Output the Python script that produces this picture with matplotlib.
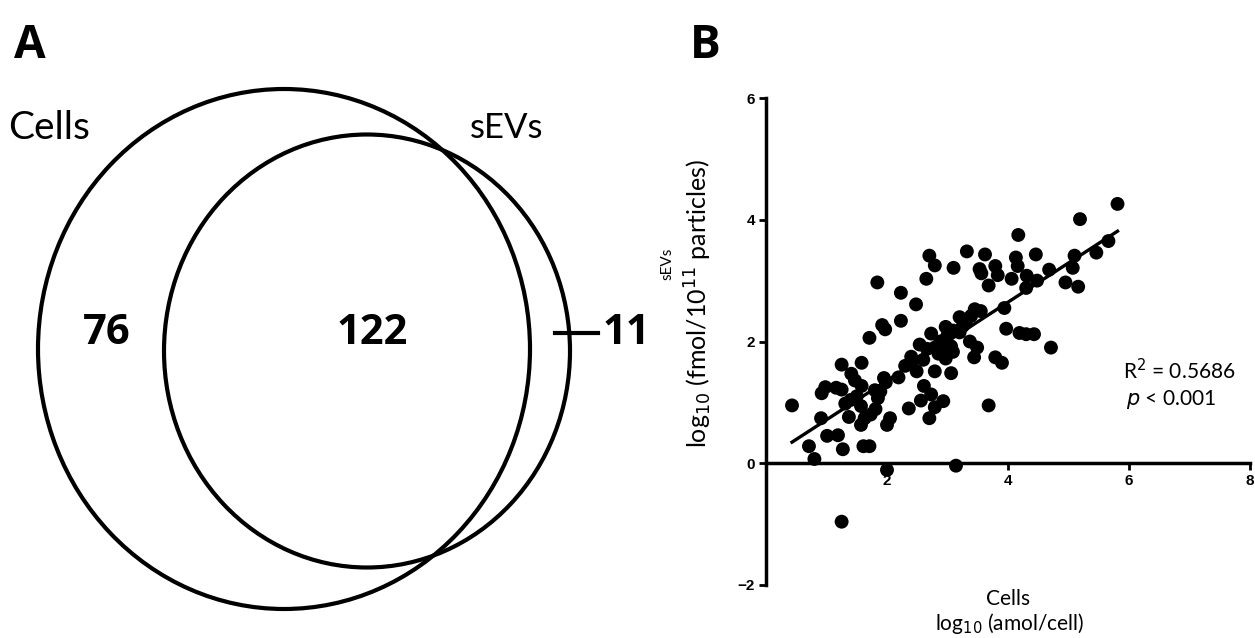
import numpy as np
import matplotlib
matplotlib.use("Agg")
import matplotlib.pyplot as plt
from matplotlib.patches import Ellipse

# ---------------- data ----------------
venn_labels = ["Cells", "sEVs"]
venn_counts = {"cells_only": 76, "both": 122, "sevs_only": 11}

cells_x = [5.81, 5.19, 4.17, 5.66, 5.46, 3.32, 3.62, 4.46, 2.70, 4.13, 5.10, 2.79, 3.10, 3.53,
           3.79, 4.16, 4.68, 5.07, 3.56, 3.83, 1.84, 2.65, 4.06, 4.31, 3.68, 4.95, 5.16, 4.30,
           4.48, 2.23, 2.48, 3.94, 3.45, 3.39, 1.92, 1.97, 2.23, 1.71, 3.97, 4.19, 4.30, 4.43,
           4.71, 3.30, 3.09, 2.97, 2.73, 2.54, 2.66, 2.79, 2.85, 2.88, 3.06, 3.09, 3.37, 3.49,
           3.44, 3.79, 3.90, 2.97, 2.40, 2.49, 2.79, 3.06, 1.25, 1.58, 2.19, 1.98, 1.41, 1.47,
           1.58, 0.92, 0.98, 1.16, 1.25, 1.89, 1.85, 2.61, 2.73, 2.56, 2.79, 2.93, 2.36, 1.31,
           1.40, 1.57, 0.43, 1.81, 1.73, 1.63, 1.37, 0.91, 2.05, 2.00, 1.57, 2.70, 3.68, 1.01,
           1.19, 0.71, 1.27, 1.61, 1.71, 0.80, 2.00, 3.14, 1.25,
           2.90, 2.98, 3.20, 3.25, 2.95, 2.30, 2.40, 1.95, 1.80, 1.50, 3.00, 3.55, 3.20, 2.60]
sevs_y = [4.26, 4.01, 3.75, 3.65, 3.46, 3.48, 3.43, 3.43, 3.41, 3.38, 3.41, 3.25, 3.21, 3.19,
          3.24, 3.24, 3.18, 3.21, 3.12, 3.09, 2.97, 3.03, 3.03, 3.08, 2.92, 2.97, 2.90, 2.88,
          3.00, 2.80, 2.61, 2.55, 2.53, 2.42, 2.27, 2.20, 2.34, 2.06, 2.21, 2.14, 2.12, 2.12,
          1.90, 2.30, 2.18, 2.24, 2.13, 1.95, 1.88, 1.90, 1.80, 2.00, 1.92, 1.83, 2.00, 1.90,
          1.74, 1.74, 1.65, 1.72, 1.65, 1.51, 1.51, 1.48, 1.62, 1.65, 1.41, 1.33, 1.47, 1.36,
          1.27, 1.15, 1.25, 1.24, 1.21, 1.18, 1.07, 1.27, 1.13, 1.03, 0.92, 1.02, 0.90, 0.98,
          1.04, 0.94, 0.95, 0.89, 0.80, 0.74, 0.76, 0.74, 0.74, 0.63, 0.63, 0.74, 0.95, 0.45,
          0.46, 0.28, 0.23, 0.28, 0.28, 0.07, -0.11, -0.04, -0.96,
          1.95, 2.05, 2.15, 2.25, 1.85, 1.60, 1.75, 1.40, 1.20, 1.10, 2.10, 2.50, 2.40, 1.70]
fit_slope = 0.644
fit_intercept = 0.07
x_ticks = [2, 4, 6, 8]
y_ticks = [-2, 0, 2, 4, 6]
r2_text = "0.5686"
p_text = "0.001"

# ---------------- figure ----------------
W, H = 1255, 638
fig = plt.figure(figsize=(W / 100, H / 100), dpi=100)
fig.patch.set_facecolor("white")

venn_font = ["Lato", "DejaVu Sans"]
num_font = ["Open Sans", "DejaVu Sans"]

# Panel A: Venn diagram, axes in pixel coordinates
axv = fig.add_axes([0, 0, 690 / W, 1])
axv.set_xlim(0, 690)
axv.set_ylim(H, 0)
axv.axis("off")

cells_e = Ellipse((284, 349), 492, 520, fill=False, lw=3.0, ec="black")
sevs_e = Ellipse((367, 351), 406, 433, fill=False, lw=3.0, ec="black")
axv.add_patch(cells_e)
axv.add_patch(sevs_e)

axv.text(14, 45, "A", fontsize=33, fontweight="bold", family=num_font, va="center", ha="left")
axv.text(8, 128, venn_labels[0], fontsize=28, family=venn_font, va="center", ha="left")
axv.text(470, 128, venn_labels[1], fontsize=25, family=venn_font, va="center", ha="left")
axv.text(107, 333, str(venn_counts["cells_only"]), fontsize=30, fontweight="bold",
         family=num_font, va="center", ha="center")
axv.text(372, 333, str(venn_counts["both"]), fontsize=30, fontweight="bold",
         family=num_font, va="center", ha="center")
axv.plot([555, 598], [333, 333], color="black", lw=3)
axv.text(626, 333, str(venn_counts["sevs_only"]), fontsize=30, fontweight="bold",
         family=num_font, va="center", ha="center")

fig.text(690 / W, 1 - 45 / H, "B", fontsize=33, fontweight="bold", family=num_font,
         va="center", ha="left")

# Panel B: scatter
ax = fig.add_axes([766 / W, (H - 585) / H, (1250 - 766) / W, (585 - 98) / H])
ax.set_xlim(0, 8)
ax.set_ylim(-2, 6)
ax.scatter(cells_x, sevs_y, s=100, color="black", edgecolors="none", zorder=3, clip_on=False)
xs = np.array([min(cells_x), max(cells_x)])
ax.plot(xs, fit_slope * xs + fit_intercept, color="black", lw=2.4, zorder=2)

for s in ["top", "right"]:
    ax.spines[s].set_visible(False)
ax.spines["bottom"].set_position(("data", 0))
ax.spines["left"].set_linewidth(2.5)
ax.spines["bottom"].set_linewidth(2.5)
ax.set_xticks(x_ticks)
ax.set_yticks(y_ticks)
ax.set_yticklabels([("\u2212" + str(-t)) if t < 0 else str(t) for t in y_ticks])
ax.tick_params(axis="both", direction="out", width=2, length=5, labelsize=11, pad=3)
for lab in ax.get_xticklabels() + ax.get_yticklabels():
    lab.set_fontweight("bold")
    lab.set_family(["Liberation Sans", "DejaVu Sans"])

px = 1 / 60.5  # data units per pixel (x)
py = 1 / 60.9  # data units per pixel (y)
ax.text(-(766 - 698) * px, (462 - 302) * py, r"log$_{10}$ (fmol/10$^{11}$ particles)",
        rotation=90, fontsize=18, family=venn_font, ha="center", va="center")
ax.text(-(766 - 667) * px, (462 - 262) * py, "sEVs", rotation=90, fontsize=11,
        family=venn_font, ha="center", va="center")
ax.text((1008 - 766) * px, (462 - 598) * py, "Cells", fontsize=15, family=venn_font,
        ha="center", va="center", clip_on=False)
ax.text((1010 - 766) * px, (462 - 622) * py, r"log$_{10}$ (amol/cell)", fontsize=15,
        family=venn_font, ha="center", va="center", clip_on=False)
ax.text((1236 - 766) * px, (462 - 369) * py, "R$^2$ = " + r2_text, fontsize=15,
        family=venn_font, ha="right", va="center")
ax.text((1216 - 766) * px, (462 - 398) * py, r"$p$ < " + p_text, fontsize=15,
        family=venn_font, ha="right", va="center")

fig.savefig("out.png", dpi=100, facecolor="white")
